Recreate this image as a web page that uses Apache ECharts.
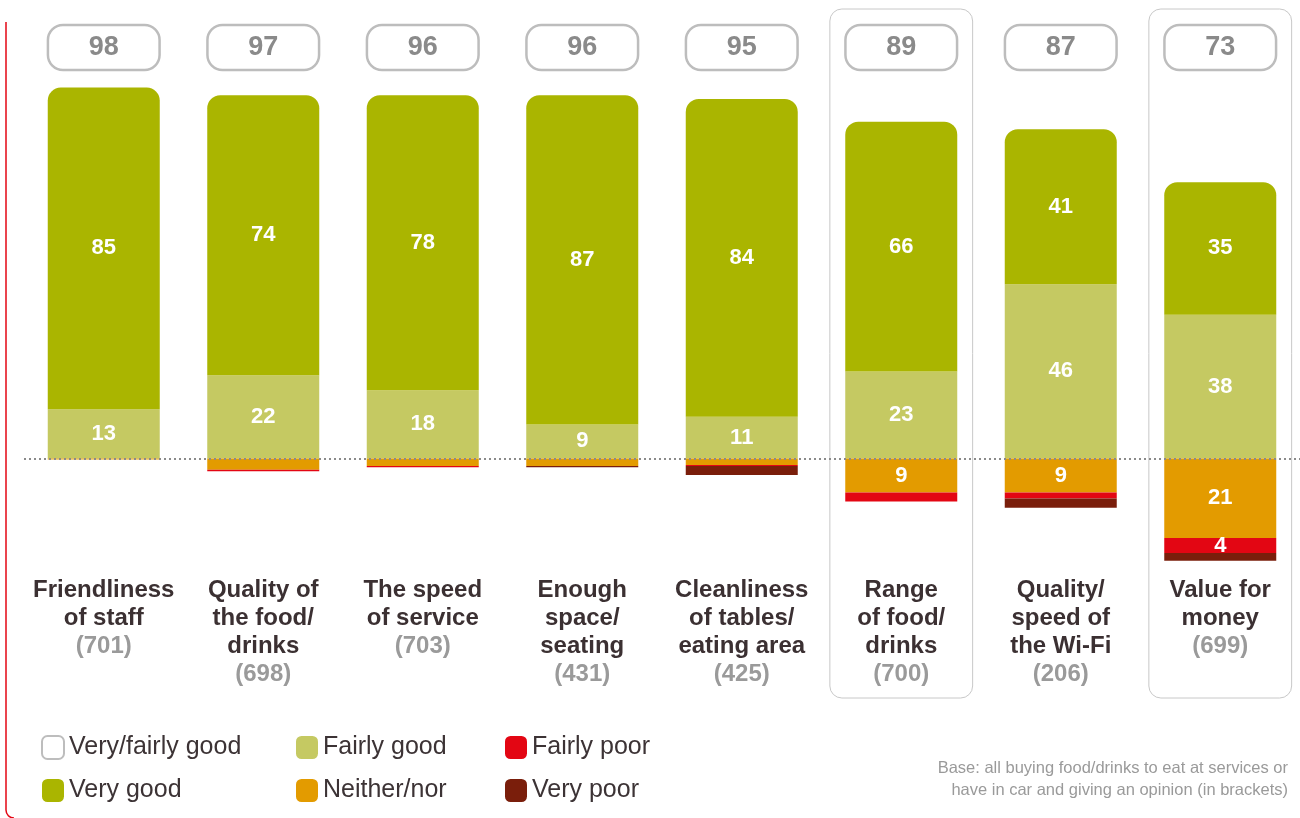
<!DOCTYPE html>
<html>
<head>
<meta charset="utf-8">
<script src="https://cdn.jsdelivr.net/npm/echarts@6/dist/echarts.min.js"></script>
<style>
html,body{margin:0;padding:0;background:#fff;}
#chart{width:1300px;height:818px;}
</style>
</head>
<body>
<div id="chart"></div>
<script>
// ---- data ----
var categoryLines = [
  ['Friendliness', 'of staff'],
  ['Quality of', 'the food/', 'drinks'],
  ['The speed', 'of service'],
  ['Enough', 'space/', 'seating'],
  ['Cleanliness', 'of tables/', 'eating area'],
  ['Range', 'of food/', 'drinks'],
  ['Quality/', 'speed of', 'the Wi-Fi'],
  ['Value for', 'money']
];
var baseCounts = [701, 698, 703, 431, 425, 700, 206, 699];
var veryFairlyGood = [98, 97, 96, 96, 95, 89, 87, 73];
var veryGood   = [85, 74, 78, 87, 84, 66, 41, 35];
var fairlyGood = [13, 22, 18, 9, 11, 23, 46, 38];
var neitherNor = [0.3, 3, 2, 2, 1.7, 9, 9, 21];
var fairlyPoor = [0, 0.35, 0.35, 0, 0.3, 2.4, 1.6, 4];
var veryPoor   = [0, 0, 0, 0.3, 2.4, 0, 2.4, 2];
var highlighted = [5, 7];

var categories = categoryLines.map(function (l) { return l.join(' '); });
var FONT = '"Liberation Sans", Arial, sans-serif';
var C = {
  veryGood: '#aab500',
  fairlyGood: '#c5c962',
  neither: '#e39b00',
  fairlyPoor: '#e30613',
  veryPoor: '#7a1e0b'
};

function neg(arr) { return arr.map(function (v) { return -v; }); }
function segLabel(show) {
  return {
    show: show,
    position: 'inside',
    color: '#fff',
    fontFamily: FONT,
    fontWeight: 'bold',
    fontSize: 22,
    formatter: function (p) {
      var v = Math.abs(p.value);
      return v >= 4 ? String(Math.round(v)) : '';
    }
  };
}

var chart = echarts.init(document.getElementById('chart'), null, {renderer: 'canvas'});

var option = {
  animation: false,
  backgroundColor: '#fff',
  textStyle: {fontFamily: FONT},
  grid: {left: 24, width: 1280, top: 80, height: 492, containLabel: false},
  xAxis: {
    type: 'category',
    data: categories,
    axisLine: {show: false},
    axisTick: {show: false},
    splitLine: {show: false},
    axisLabel: {
      interval: 0,
      margin: 4,
      formatter: function (val, idx) {
        var lines = categoryLines[idx].map(function (s) { return '{b|' + s + '}'; });
        lines.push('{n|(' + baseCounts[idx] + ')}');
        return lines.join('\n');
      },
      rich: {
        b: {fontFamily: FONT, fontSize: 24, fontWeight: 'bold', color: '#3b3032', lineHeight: 28},
        n: {fontFamily: FONT, fontSize: 24, fontWeight: 'bold', color: '#9a9a9a', lineHeight: 28}
      }
    }
  },
  yAxis: {
    type: 'value',
    min: -30,
    max: 100,
    show: false,
    splitLine: {show: false}
  },
  legend: [
    {
      orient: 'vertical', left: 41, top: 735, padding: 0,
      itemWidth: 22, itemHeight: 23, itemGap: 18,
      selectedMode: false,
      textStyle: {fontFamily: FONT, fontSize: 25, color: '#3c3335'},
      data: [
        {name: 'Very/fairly good', icon: 'roundRect', itemStyle: {color: '#fff', borderColor: '#bdbdbd', borderWidth: 2}},
        {name: 'Very good', icon: 'roundRect'}
      ]
    },
    {
      orient: 'vertical', left: 296, top: 735, padding: 0,
      itemWidth: 22, itemHeight: 23, itemGap: 18,
      selectedMode: false,
      textStyle: {fontFamily: FONT, fontSize: 25, color: '#3c3335'},
      data: [{name: 'Fairly good', icon: 'roundRect'}, {name: 'Neither/nor', icon: 'roundRect'}]
    },
    {
      orient: 'vertical', left: 505, top: 735, padding: 0,
      itemWidth: 22, itemHeight: 23, itemGap: 18,
      selectedMode: false,
      textStyle: {fontFamily: FONT, fontSize: 25, color: '#3c3335'},
      data: [{name: 'Fairly poor', icon: 'roundRect'}, {name: 'Very poor', icon: 'roundRect'}]
    }
  ],
  graphic: [
    {
      type: 'line', silent: true,
      shape: {x1: 6, y1: 22, x2: 6, y2: 810},
      style: {stroke: '#e30613', lineWidth: 1.5}
    },
    {
      type: 'arc', silent: true,
      shape: {cx: 14, cy: 810, r: 8, startAngle: Math.PI / 2, endAngle: Math.PI},
      style: {stroke: '#e30613', lineWidth: 1.5, fill: null}
    },
    {
      type: 'text', silent: true,
      right: 12, top: 757,
      style: {
        text: 'Base: all buying food/drinks to eat at services or\nhave in car and giving an opinion (in brackets)',
        font: '16.5px ' + FONT,
        fill: '#9a9a9a',
        textAlign: 'right',
        lineHeight: 22
      }
    }
  ],
  series: [
    {
      name: 'highlight',
      type: 'custom',
      silent: true,
      clip: false,
      z: 0,
      data: highlighted.map(function (i) { return [i]; }),
      encode: {x: 0},
      renderItem: function (params, api) {
        var cx = api.coord([api.value(0), 0])[0];
        var w = api.size([1, 0])[0] * 0.895;
        return {
          type: 'rect',
          shape: {x: cx - w / 2, y: 9, width: w, height: 689, r: 12},
          style: {fill: 'none', stroke: '#c8c8c8', lineWidth: 1}
        };
      }
    },
    {
      name: 'Very/fairly good',
      type: 'custom',
      silent: true,
      clip: false,
      z: 3,
      itemStyle: {color: '#fff', borderColor: '#bdbdbd', borderWidth: 2},
      data: veryFairlyGood.map(function (v, i) { return [i, v]; }),
      encode: {x: 0},
      renderItem: function (params, api) {
        var cx = api.coord([api.value(0), 0])[0];
        var w = api.size([1, 0])[0] * 0.7;
        return {
          type: 'group',
          children: [
            {
              type: 'rect',
              shape: {x: cx - w / 2, y: 25, width: w, height: 45, r: 15},
              style: {fill: '#fff', stroke: '#bdbdbd', lineWidth: 2.5}
            },
            {
              type: 'text',
              x: cx, y: 48,
              style: {
                text: String(api.value(1)),
                font: 'bold 27px ' + FONT,
                fill: '#8a8a8a',
                textAlign: 'center',
                textVerticalAlign: 'middle'
              }
            }
          ]
        };
      }
    },
    {
      name: 'Fairly good', type: 'bar', stack: 'all', barWidth: 112,
      itemStyle: {color: C.fairlyGood},
      label: segLabel(true),
      data: fairlyGood
    },
    {
      name: 'Very good', type: 'bar', stack: 'all', barWidth: 112,
      itemStyle: {color: C.veryGood, borderRadius: [13, 13, 0, 0]},
      label: segLabel(true),
      data: veryGood
    },
    {
      name: 'Neither/nor', type: 'bar', stack: 'all', barWidth: 112,
      itemStyle: {color: C.neither},
      label: segLabel(true),
      data: neg(neitherNor)
    },
    {
      name: 'Fairly poor', type: 'bar', stack: 'all', barWidth: 112,
      itemStyle: {color: C.fairlyPoor},
      label: segLabel(true),
      data: neg(fairlyPoor)
    },
    {
      name: 'Very poor', type: 'bar', stack: 'all', barWidth: 112,
      itemStyle: {color: C.veryPoor},
      label: segLabel(false),
      data: neg(veryPoor),
      markLine: {
        silent: true,
        symbol: 'none',
        label: {show: false},
        lineStyle: {color: '#8a8a8a', type: [2, 3], width: 2},
        data: [{yAxis: 0}]
      }
    }
  ]
};

chart.setOption(option);
</script>
</body>
</html>
